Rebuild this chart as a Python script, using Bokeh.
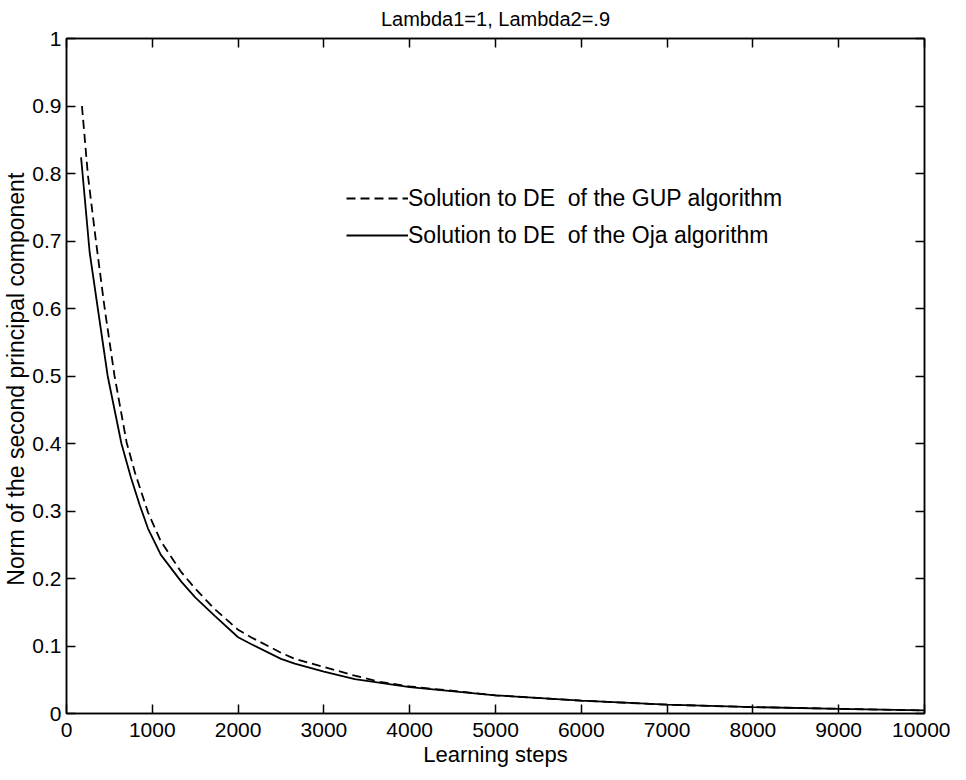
from bokeh.plotting import figure
from bokeh.models import (FixedTicker, Legend, LegendItem, ColumnDataSource, LinearAxis,
                          CustomLabelingPolicy)
from bokeh.embed import file_html
from bokeh.resources import INLINE

# ---- data ----
oja_steps = [170, 270, 365, 480, 560, 640, 750, 850, 950, 1100, 1340, 1500, 1725,
             2000, 2150, 2500, 2660, 3000, 3360, 4000, 5000, 6000, 7000, 8000, 9000, 10000]
oja_norm = [0.824, 0.683, 0.600, 0.500, 0.450, 0.400, 0.350, 0.310, 0.274, 0.235, 0.195,
            0.172, 0.145, 0.113, 0.103, 0.081, 0.074, 0.062, 0.051, 0.039, 0.027, 0.019,
            0.013, 0.0095, 0.007, 0.0045]

gup_steps = [180, 250, 345, 445, 560, 620, 700, 800, 950, 1100, 1340, 1500, 1725, 2000,
             2150, 2500, 2660, 3000, 3360, 3650, 3900, 4000, 5000, 6000, 7000, 8000, 9000, 10000]
gup_norm = [0.900, 0.797, 0.698, 0.600, 0.500, 0.458, 0.402, 0.356, 0.298, 0.255, 0.209,
            0.185, 0.155, 0.124, 0.113, 0.090, 0.081, 0.069, 0.056, 0.047, 0.042, 0.040,
            0.027, 0.019, 0.013, 0.0095, 0.007, 0.0045]

x_ticks = [0, 1000, 2000, 3000, 4000, 5000, 6000, 7000, 8000, 9000, 10000]
x_tick_labels = ["0", "1000", "2000", "3000", "4000", "5000", "6000", "7000", "8000", "9000", "10000"]
y_ticks = [0, 0.1, 0.2, 0.3, 0.4, 0.5, 0.6, 0.7, 0.8, 0.9, 1]
y_tick_labels = ["0", "0.1", "0.2", "0.3", "0.4", "0.5", "0.6", "0.7", "0.8", "0.9", "1"]

title_text = "Lambda1=1, Lambda2=.9"
x_label = "Learning steps"
y_label = "Norm of the second principal  component"
gup_label = "Solution to DE  of the GUP algorithm"
oja_label = "Solution to DE  of the Oja algorithm"

FONT = "Liberation Sans"
TICK_LEN = 9

p = figure(frame_width=858, frame_height=675, x_range=(0, 10000), y_range=(0, 1),
           output_backend="svg", toolbar_location=None, title=title_text,
           min_border_left=66, min_border_right=26, min_border_top=35, min_border_bottom=54)
p.background_fill_color = "white"
p.border_fill_color = "white"
p.outline_line_color = "black"
p.outline_line_width = 1.5
p.xgrid.visible = False
p.ygrid.visible = False

p.title.text_font = FONT
p.title.text_font_size = "20px"
p.title.text_font_style = "normal"
p.title.align = "center"
p.title.text_color = "black"
p.title.standoff = 10

src_gup = ColumnDataSource(dict(x=gup_steps, y=gup_norm))
src_oja = ColumnDataSource(dict(x=oja_steps, y=oja_norm))
r_gup = p.line("x", "y", source=src_gup, line_color="black", line_width=1.8, line_dash="9 5")
r_oja = p.line("x", "y", source=src_oja, line_color="black", line_width=1.8)


def style_axis(ax):
    ax.major_tick_in = TICK_LEN
    ax.major_tick_out = 0
    ax.minor_tick_in = 0
    ax.minor_tick_out = 0
    ax.axis_line_width = 1.5
    ax.axis_line_color = "black"
    ax.major_tick_line_width = 1.5
    ax.major_tick_line_color = "black"
    ax.major_label_text_font = FONT
    ax.major_label_text_color = "black"
    ax.major_label_text_font_size = "21px"
    ax.major_label_standoff = 5
    ax.axis_label_text_font = FONT
    ax.axis_label_text_font_style = "normal"
    ax.axis_label_text_color = "black"


xa = p.xaxis[0]
xa.ticker = FixedTicker(ticks=x_ticks)
xa.major_label_overrides = {t: l for t, l in zip(x_ticks, x_tick_labels)}
xa.axis_label = x_label
style_axis(xa)
xa.axis_label_text_font_size = "22px"
xa.major_label_standoff = 9
xa.axis_label_standoff = 2

ya = p.yaxis[0]
ya.ticker = FixedTicker(ticks=y_ticks)
ya.major_label_overrides = {t: l for t, l in zip(y_ticks, y_tick_labels)}
ya.axis_label = y_label
style_axis(ya)
ya.axis_label_text_font_size = "23px"
ya.major_label_standoff = 5
ya.axis_label_standoff = 0

# box axes on top and right: inward ticks only, no labels (MATLAB style)
no_labels = CustomLabelingPolicy(code="""
try { for (let i = 0; i < indices.size; i++) { indices.unset(i) } } catch (e) {}
return indices
""")
for side, ticks in (("above", x_ticks), ("right", y_ticks)):
    ax = LinearAxis(ticker=FixedTicker(ticks=ticks), major_label_policy=no_labels)
    style_axis(ax)
    ax.major_label_text_font_size = "1px"
    ax.major_label_standoff = 0
    p.add_layout(ax, side)

legend = Legend(items=[LegendItem(label=gup_label, renderers=[r_gup]),
                       LegendItem(label=oja_label, renderers=[r_oja])],
                location=(280, 464))
legend.label_text_font = FONT
legend.label_text_font_size = "23px"
legend.label_text_color = "black"
legend.glyph_width = 62
legend.glyph_height = 28
legend.label_height = 28
legend.spacing = 9
legend.padding = 0
legend.margin = 0
legend.label_standoff = 0
legend.border_line_alpha = 0
legend.background_fill_alpha = 0
p.add_layout(legend)

open("out.html", "w").write(file_html(p, INLINE))
